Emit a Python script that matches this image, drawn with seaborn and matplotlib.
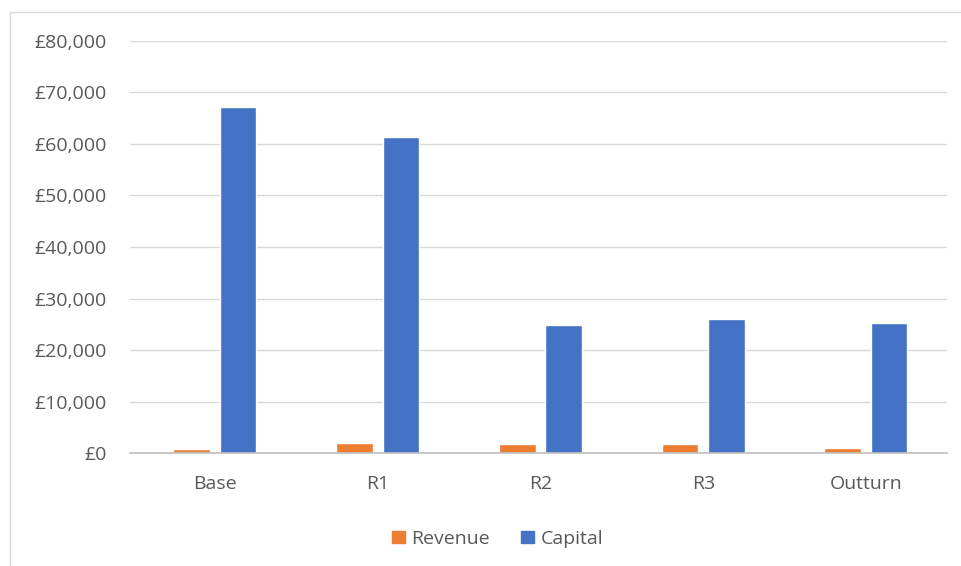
import pandas as pd
import matplotlib.pyplot as plt
import matplotlib.patches as mpatches
from matplotlib.ticker import FuncFormatter
import seaborn as sns

# values
stages = ['Base', 'R1', 'R2', 'R3', 'Outturn']
revenue = [800, 1950, 1800, 1700, 1000]
capital = [67200, 61400, 24850, 26100, 25250]

df = pd.DataFrame({
    'stage': stages * 2,
    'series': ['Revenue'] * len(stages) + ['Capital'] * len(stages),
    'value': revenue + capital,
})

sns.set_style('white')
plt.rcParams['font.family'] = ['Open Sans', 'DejaVu Sans']

fig = plt.figure(figsize=(9.61, 5.66), dpi=100)
ax = fig.add_axes([130 / 961, 0.1996, 817 / 961, 0.728])

palette = {'Revenue': '#ED7D31', 'Capital': '#4472C4'}
sns.barplot(data=df, x='stage', y='value', hue='series', palette=palette,
            width=0.57, gap=0.21, ax=ax, legend=False, saturation=1)

ax.set_ylim(0, 80000)
ax.set_xlim(-0.522, 4.498)
ax.set_yticks(range(0, 80001, 10000))
ax.yaxis.set_major_formatter(FuncFormatter(lambda v, p: f'£{int(v):,}'))
ax.set_xlabel('')
ax.set_ylabel('')
ax.grid(axis='y', color='#d9d9d9', linewidth=1)
ax.set_axisbelow(True)
for s in ['top', 'right', 'left']:
    ax.spines[s].set_visible(False)
ax.spines['bottom'].set_color('#bfbfbf')
ax.spines['bottom'].set_linewidth(1.2)
ax.tick_params(axis='y', length=0, pad=17, labelsize=14, labelcolor='#595959')
ax.tick_params(axis='x', length=0, pad=16, labelsize=14, labelcolor='#595959')

# legend along the bottom
handles = [mpatches.Patch(color=palette[k], label=k) for k in ['Revenue', 'Capital']]
fig.legend(handles=handles, loc='center', bbox_to_anchor=(0.518, 0.048), ncol=2,
           frameon=False, handlelength=0.65, handleheight=0.65, handletextpad=0.35,
           columnspacing=1.6, fontsize=14, labelcolor='#595959')

# chart area border
fig.add_artist(mpatches.Rectangle((10 / 961, -0.01), 1.0, 1 - 12 / 566 + 0.01,
                                  transform=fig.transFigure, fill=False,
                                  edgecolor='#d9d9d9', linewidth=1))

fig.savefig('out.png', dpi=100)
